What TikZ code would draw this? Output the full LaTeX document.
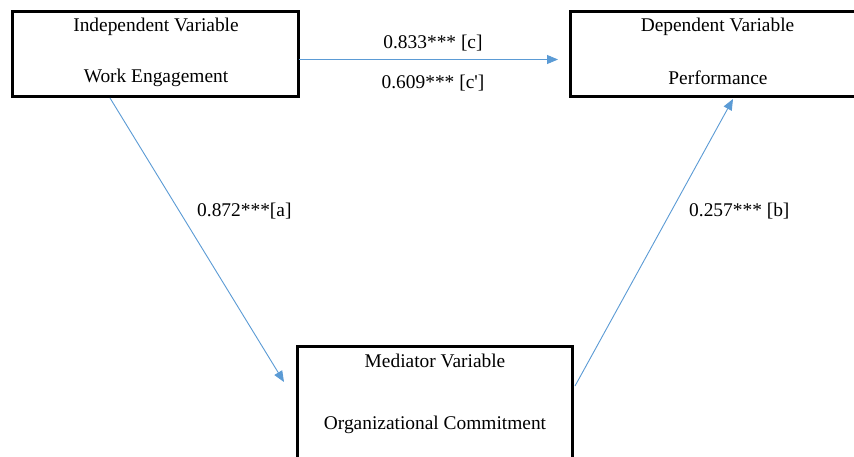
\documentclass[tikz,border=0pt]{standalone}
\usepackage{fontspec}
\setmainfont{Liberation Serif}
\usetikzlibrary{arrows.meta}
\definecolor{linkblue}{HTML}{5B9BD5}
\begin{document}
\begin{tikzpicture}[x=1pt,y=-1pt,
  box/.style={draw=black,line width=3pt,inner sep=0pt,outer sep=0pt},
  lbl/.style={inner sep=0pt,font=\fontsize{19.4}{23}\selectfont},
  link/.style={draw=linkblue,line width=0.9pt,-{Triangle[length=11pt,width=9pt]}}]
\useasboundingbox[fill=white] (0,0) rectangle (854,457);
% boxes
\node[box,minimum width=286pt,minimum height=85pt] (iv) at (155,54.5) {};
\node[box,minimum width=295pt,minimum height=85pt] (dv) at (717.5,54.5) {};
\node[box,minimum width=275pt,minimum height=140pt] (mv) at (434.5,416) {};
% box texts
\node[lbl] (ivt1) at (156,27) {Independent Variable};
\node[lbl] (ivt2) at (156,78) {Work Engagement};
\node[lbl] (dvt1) at (717.5,27) {Dependent Variable};
\node[lbl] (dvt2) at (718,78) {Performance};
\node[lbl] (mvt1) at (435,361) {Mediator Variable};
\node[lbl] (mvt2) at (435,425) {Organizational Commitment};
% connector end points
\coordinate (h1) at (299,59.5);
\coordinate (h2) at (558,59.5);
\coordinate (d1) at (110,98);
\coordinate (d2) at (284,382);
\coordinate (e1) at (575,386);
\coordinate (e2) at (733,99);
\draw[link] (h1) -- (h2);
\draw[link] (d1) -- (d2);
\draw[link] (e1) -- (e2);
% path labels
\node[lbl] (c) at (433,43) {0.833*** [c]};
\node[lbl] (cp) at (433,83) {0.609*** [c\textquotesingle]};
\node[lbl,anchor=west] (a) at (197,211) {0.872***[a]};
\node[lbl,anchor=west] (b) at (689,211) {0.257*** [b]};
\end{tikzpicture}
\end{document}
